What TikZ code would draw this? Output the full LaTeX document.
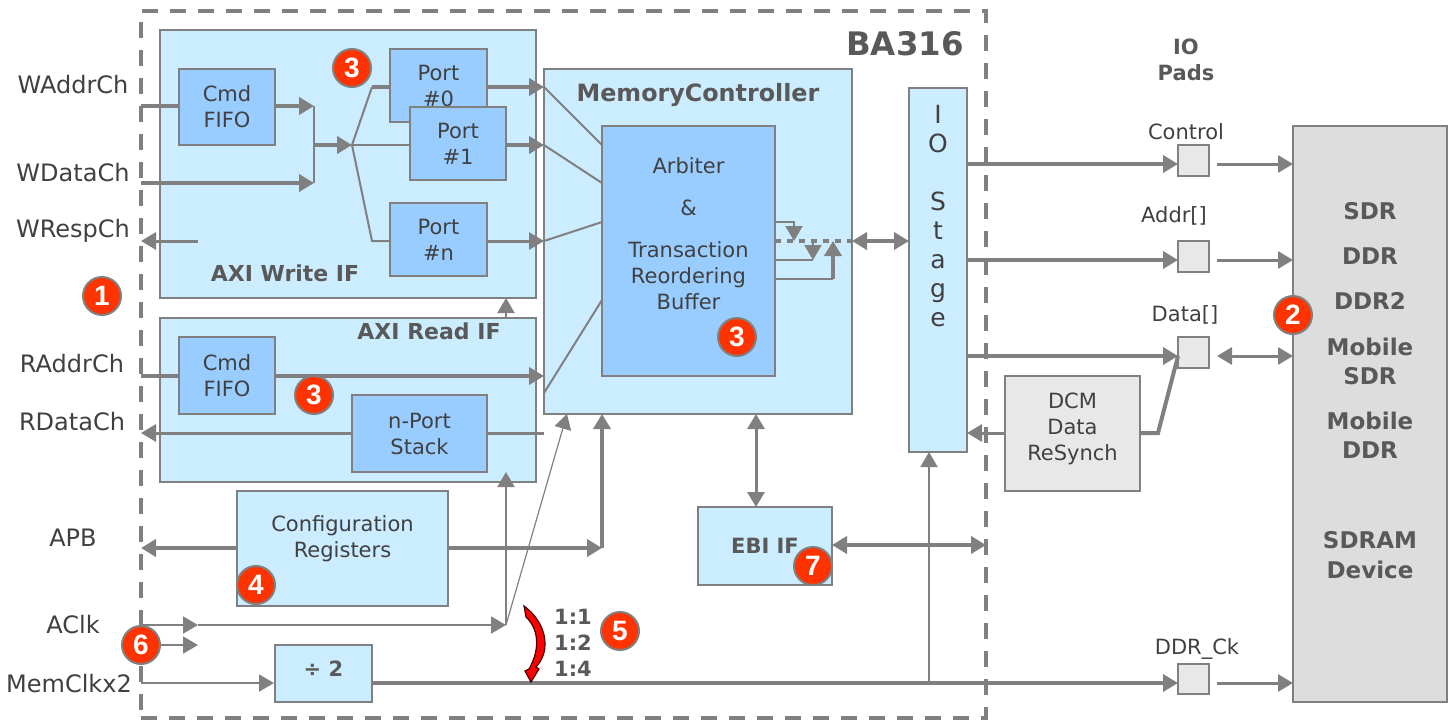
\documentclass[tikz,border=0pt]{standalone}
\usepackage{fontspec}
\setmainfont{DejaVu Sans}
\newfontfamily\badgefont{Liberation Sans}
\usetikzlibrary{arrows.meta}
\definecolor{linegray}{HTML}{808080}
\definecolor{lightblue}{HTML}{CCECFF}
\definecolor{midblue}{HTML}{99CCFF}
\definecolor{padgray}{HTML}{E8E8E8}
\definecolor{devgray}{HTML}{DDDDDD}
\definecolor{inkgray}{HTML}{404040}
\definecolor{boldgray}{HTML}{595959}
\definecolor{badgered}{HTML}{FF3300}
\begin{document}
\begin{tikzpicture}
          [x=0.5pt,y=-0.5pt,>={Triangle[length=7.5pt,width=8.5pt]},
          wh/.style 2 args={minimum width=#1*0.5pt,minimum height=#2*0.5pt},
          block/.style={rectangle, draw=linegray, line width=1pt, inner sep=0pt, text=inkgray, align=center, font=\fontsize{10.5}{13}\selectfont},
          outerblock/.style={block, fill=lightblue},
          innerblock/.style={block, fill=midblue},
          padblock/.style={block, fill=padgray},
          signame/.style={text=inkgray, align=center, inner sep=0pt, font=\fontsize{12}{13}\selectfont},
          padname/.style={signame, font=\fontsize{10.5}{13}\selectfont},
          boldname/.style={text=boldgray, align=center, inner sep=0pt, font=\fontsize{11}{13}\bfseries\selectfont},
          devname/.style={boldname, font=\fontsize{11.5}{14.5}\bfseries\selectfont},
          badge/.style={circle, fill=badgered, draw=linegray, line width=1pt, inner sep=0pt, minimum size=19pt, text=white, font=\fontsize{14}{14}\badgefont\bfseries\selectfont},
          bus/.style={draw=linegray, line width=2pt},
          wire/.style={draw=linegray, line width=1.5pt},
          thinwire/.style={draw=linegray, line width=1pt},
          hairwire/.style={draw=linegray, line width=0.6pt}]
        \useasboundingbox (0,0) rectangle (1453,720);
        \node [rectangle, draw=linegray, line width=2pt, dash pattern=on 8pt off 6pt, wh={845}{707}] (outer) at (563.5,364.5) {};
        \node [outerblock, wh={376}{268}] (axiw) at (348,164) {};
        \node [innerblock, wh={96}{76}] (cmdw) at (227,107) {Cmd\\FIFO};
        \node [innerblock, wh={97}{73}] (port0) at (438.5,85.5) {Port\\\#0};
        \node [innerblock, wh={96}{73}] (port1) at (458,143.5) {Port\\\#1};
        \node [innerblock, wh={97}{73}] (portn) at (438.5,239.5) {Port\\\#n};
        \node [outerblock, wh={308}{345}] (mc) at (698,241.5) {};
        \node [innerblock, wh={173}{250}] (arb) at (688.5,251) {};
        \node [outerblock, wh={58}{364}] (iostage) at (938,270) {};
        \node [outerblock, wh={376}{164}] (axir) at (348,400) {};
        \node [innerblock, wh={96}{77}] (cmdr) at (227,375.5) {Cmd\\FIFO};
        \node [innerblock, wh={135}{77}] (stack) at (419.5,433.5) {n-Port\\Stack};
        \node [outerblock, wh={211}{115}] (cfg) at (342.5,548.5) {};
        \node [outerblock, wh={134}{78}] (ebi) at (765,546) {\bfseries\color{boldgray}EBI IF};
        \node [outerblock, wh={97}{57}] (div) at (323.5,673.5) {};
        \node [padblock, wh={135}{115}] (dcm) at (1072.5,433.5) {};
        \node [padblock, wh={31}{31}] (padc) at (1193.5,160.5) {};
        \node [padblock, wh={31}{31}] (pada) at (1193.5,256.5) {};
        \node [padblock, wh={31}{31}] (padd) at (1193.5,352.5) {};
        \node [padblock, wh={31}{30}] (padk) at (1193.5,679) {};
        \node [block, fill=devgray, wh={154}{576}] (sdram) at (1370,414) {};

        \node [block, draw=none, text width=86pt] (arbtext) at (688.5,234) {Arbiter\\[8pt]\&\\[8pt]Transaction\\Reordering\\Buffer};
        \node [block, draw=none] (cfgtext) at (342.5,538.5) {Configuration\\Registers};
        \node [block, draw=none] (dcmtext) at (1072.5,429) {DCM\\Data\\ReSynch};
        \node [block, draw=none, font=\fontsize{10.5}{13}\bfseries\selectfont, text=boldgray] (divtext) at (323.5,669) {÷ 2};
        \node [block, draw=none, font=\fontsize{12.5}{14.5}\selectfont] (iotext) at (938,216) {I\\O\\[14.5pt]S\\t\\a\\g\\e};
        \node [boldname, font=\fontsize{11.9}{13}\bfseries\selectfont] (mctext) at (698,95) {MemoryController};
        \node [boldname] (axiwtext) at (285,273) {AXI Write IF};
        \node [boldname] (axirtext) at (429,331) {AXI Read IF};
        \node [boldname, font=\fontsize{16.2}{16}\bfseries\selectfont] (batext) at (905,44) {BA316};
        \node [boldname, font=\fontsize{10.5}{13}\bfseries\selectfont] (iopads) at (1186,60) {IO\\Pads};
        \node [devname] (sdr) at (1370,211) {SDR};
        \node [devname] (ddr) at (1370,256) {DDR};
        \node [devname] (ddrtwo) at (1370,301) {DDR2};
        \node [devname] (msdr) at (1370,361.5) {Mobile\\SDR};
        \node [devname] (mddr) at (1370,435.5) {Mobile\\DDR};
        \node [devname, font=\fontsize{11.5}{15}\bfseries\selectfont] (device) at (1370,555) {SDRAM\\Device};
        \node [boldname, font=\fontsize{10.5}{13}\bfseries\selectfont] (ratios) at (573,643) {1:1\\1:2\\1:4};

        \node [signame] (waddr) at (73,85) {WAddrCh};
        \node [signame] (wdata) at (73,173) {WDataCh};
        \node [signame] (wresp) at (73,231) {WRespCh};
        \node [signame] (raddr) at (72,364) {RAddrCh};
        \node [signame] (rdata) at (72,422) {RDataCh};
        \node [signame] (apb) at (73,538) {APB};
        \node [signame] (aclk) at (73,625) {AClk};
        \node [signame] (memclk) at (69,684) {MemClkx2};
        \node [padname] (ctltext) at (1186,132) {Control};
        \node [padname] (addrtext) at (1174,216) {Addr[]};
        \node [padname] (datatext) at (1185,315) {Data[]};
        \node [padname] (cktext) at (1197,649) {DDR\_Ck};

        \coordinate (waddrin) at (141,106);
        \coordinate (wdatain) at (141,183);
        \coordinate (wrespend) at (198,241);
        \coordinate (wrespout) at (141,241);
        \coordinate (merge) at (314,145);
        \coordinate (mergetop) at (314,106);
        \coordinate (mergebot) at (314,183);
        \coordinate (fan) at (352,145);
        \coordinate (fantop) at (372,87);
        \coordinate (fanbot) at (372,241);
        \coordinate (mc0) at (544,87);
        \coordinate (mc1) at (544,145);
        \coordinate (mcn) at (544,241);
        \coordinate (mcr) at (544,376);
        \coordinate (mcs) at (544,433);
        \coordinate (mclow) at (544,393);
        \coordinate (arb0) at (602,145);
        \coordinate (arb1) at (602,183);
        \coordinate (arbn) at (602,222);
        \coordinate (arbr) at (602,300);
        \coordinate (raddrin) at (141,376);
        \coordinate (rdataout) at (141,433);
        \coordinate (apbout) at (141,548);
        \coordinate (cfgcorner) at (602,548);
        \coordinate (cfgup) at (602,414);
        \coordinate (aclkin) at (141,625);
        \coordinate (aclkmid) at (198,625);
        \coordinate (aclkturn) at (506,625);
        \coordinate (aclktwo) at (141,645);
        \coordinate (aclktwoend) at (198,645);
        \coordinate (axirup) at (506,472);
        \coordinate (axirtop) at (506,318);
        \coordinate (axiwup) at (506,298);
        \coordinate (mcclk) at (567,414);
        \coordinate (memin) at (141,683);
        \coordinate (ckturn) at (929,683);
        \coordinate (ckup) at (929,452);
        \coordinate (ckpad) at (1178,683);
        \coordinate (ckfree) at (1217,683);
        \coordinate (ckdev) at (1293,683);
        \coordinate (mcdown) at (756,414);
        \coordinate (ebiup) at (756,507);
        \coordinate (ebiout) at (986,545);
        \coordinate (ebieast) at (832,545);
        \coordinate (dotstart) at (775,241);
        \coordinate (dotend) at (852,241);
        \coordinate (iowest) at (909,241);
        \coordinate (out1) at (775,222);
        \coordinate (out1a) at (794,222);
        \coordinate (out1b) at (794,241);
        \coordinate (out2) at (775,260);
        \coordinate (out2a) at (813,260);
        \coordinate (out2b) at (813,241);
        \coordinate (out3) at (775,279);
        \coordinate (out3a) at (833,279);
        \coordinate (out3b) at (833,241);
        \coordinate (ioc) at (967,164);
        \coordinate (ioa) at (967,260);
        \coordinate (iod) at (967,356);
        \coordinate (iodcm) at (967,433);
        \coordinate (pcin) at (1178,164);
        \coordinate (pain) at (1178,260);
        \coordinate (pdin) at (1178,356);
        \coordinate (pcout) at (1217,164);
        \coordinate (paout) at (1217,260);
        \coordinate (pdout) at (1217,356);
        \coordinate (devc) at (1293,164);
        \coordinate (deva) at (1293,260);
        \coordinate (devd) at (1293,356);
        \coordinate (dcmeast) at (1140,433);
        \coordinate (dcmbend) at (1158,433);

        \draw [bus] (waddrin) -- (cmdw.west |- waddrin);
        \draw [bus, ->] (cmdw.east |- mergetop) -- (mergetop);
        \draw [bus, ->] (wdatain) -- (mergebot);
        \draw [thinwire] (mergetop) -- (mergebot);
        \draw [bus, ->] (merge) -- (fan);
        \draw [thinwire] (fan) -- (fantop);
        \draw [bus] (fantop) -- (port0.west |- fantop);
        \draw [thinwire] (fan) -- (port1.west |- fan);
        \draw [thinwire] (fan) -- (fanbot) -- (portn.west |- fanbot);
        \draw [bus, ->] (port0.east |- mc0) -- (mc0);
        \draw [bus, ->] (port1.east |- mc1) -- (mc1);
        \draw [wire, ->] (portn.east |- mcn) -- (mcn);
        \draw [wire, ->] (wrespend) -- (wrespout);
        \draw [thinwire] (mc0) -- (arb0);
        \draw [thinwire] (mc1) -- (arb1);
        \draw [thinwire] (mcn) -- (arbn);
        \draw [thinwire] (mclow) -- (arbr);
        \draw [bus] (raddrin) -- (cmdr.west |- raddrin);
        \draw [bus, ->] (cmdr.east |- mcr) -- (mcr);
        \draw [wire, ->] (stack.west |- rdataout) -- (rdataout);
        \draw [wire] (mcs) -- (stack.east |- mcs);
        \draw [bus, ->] (cfg.west |- apbout) -- (apbout);
        \draw [bus, ->] (cfg.east |- cfgcorner) -- (cfgcorner);
        \draw [bus, ->] (cfgcorner) -- (cfgup);
        \draw [thinwire, ->] (aclkin) -- (aclkmid);
        \draw [thinwire, ->] (aclkmid) -- (aclkturn);
        \draw [thinwire, ->] (aclktwo) -- (aclktwoend);
        \draw [thinwire, ->] (aclkturn) -- (axirup);
        \draw [thinwire, ->] (axirtop) -- (axiwup);
        \draw [hairwire, ->] (aclkturn) -- (mcclk);
        \draw [thinwire, ->] (memin) -- (div.west |- memin);
        \draw [bus, ->] (div.east |- ckpad) -- (ckpad);
        \draw [thinwire, ->] (ckturn) -- (ckup);
        \draw [wire, ->] (ckfree) -- (ckdev);
        \draw [wire, <->] (mcdown) -- (ebiup);
        \draw [bus, <->] (ebieast) -- (ebiout);
        \draw [bus, dash pattern=on 3pt off 3pt] (dotstart) -- (dotend);
        \draw [bus, <->] (dotend) -- (iowest);
        \draw [thinwire, ->] (out1) -- (out1a) -- (out1b);
        \draw [thinwire] (out2) -- (out2a);
        \draw [thinwire, ->] (out2b) -- (out2a);
        \draw [thinwire] (out3) -- (out3a);
        \draw [bus, ->] (out3a) -- (out3b);
        \draw [bus, ->] (ioc) -- (pcin);
        \draw [bus, ->] (ioa) -- (pain);
        \draw [bus, ->] (iod) -- (pdin);
        \draw [wire, ->] (pcout) -- (devc);
        \draw [wire, ->] (paout) -- (deva);
        \draw [wire, <->] (pdout) -- (devd);
        \draw [wire, ->] (dcm.west |- iodcm) -- (iodcm);
        \draw [bus] (dcmeast) -- (dcmbend) -- (pdin);

        \path [draw=black!70!red, line width=0.6pt, fill=red] (524,606) .. controls (546,622) and (552,650) .. (536,667) -- (539,669) -- (531,682) -- (525,671) -- (529,669) .. controls (541,648) and (538,628) .. (526,617) -- cycle;

        \node [badge] (badgeone) at (102,296) {1};
        \node [badge] (badgetwo) at (1293,315) {2};
        \node [badge] (badgethreea) at (352,68) {3};
        \node [badge] (badgethreeb) at (737,337) {3};
        \node [badge] (badgethreec) at (314,395) {3};
        \node [badge] (badgefour) at (256,585) {4};
        \node [badge] (badgefive) at (620,631) {5};
        \node [badge] (badgesix) at (141,645) {6};
        \node [badge] (badgeseven) at (813,566) {7};
        \end{tikzpicture}
\end{document}
